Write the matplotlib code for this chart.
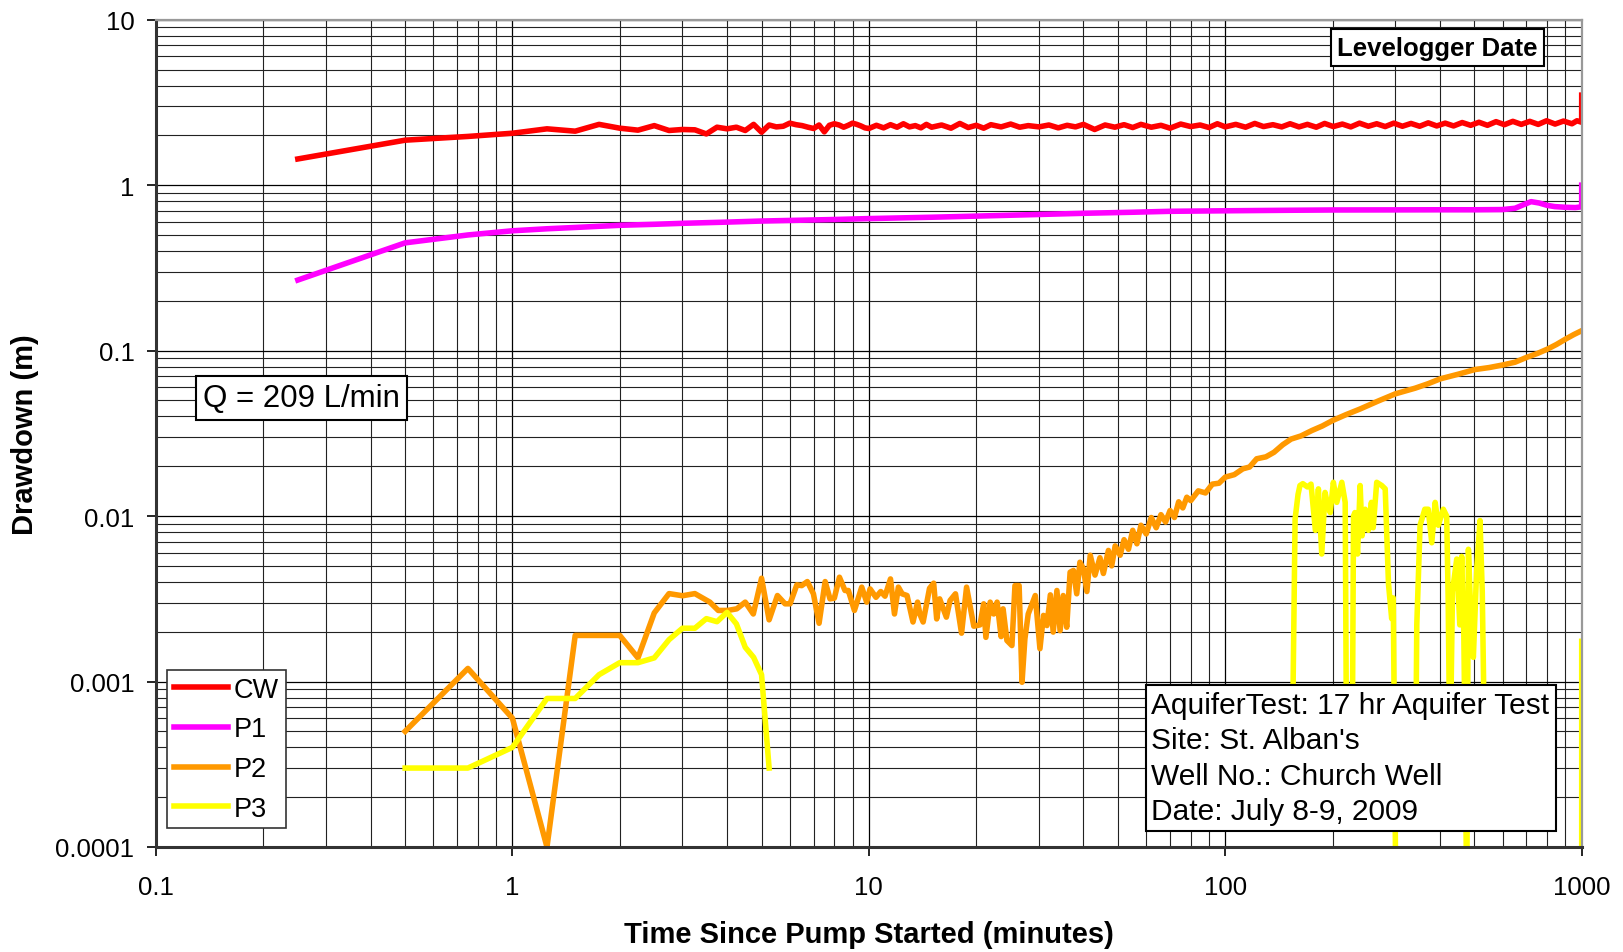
import numpy as np
import matplotlib
matplotlib.use("Agg")
import matplotlib.pyplot as plt
from matplotlib import ticker

plt.rcParams['font.family'] = ['Liberation Sans', 'DejaVu Sans']

# ---- data (time in minutes, drawdown in m) ----
cw_t = [0.25, 0.5, 0.75, 1.0, 1.25, 1.5, 1.75, 2.0, 2.25, 2.5, 2.75, 3.0, 3.25, 3.5, 3.75,
        4.0, 4.25, 4.5, 4.75, 5.0, 5.25, 5.5, 5.75, 6.0, 6.25, 6.5, 6.75, 7.0, 7.25, 7.5,
        7.75, 8.0, 8.25, 8.5, 8.75, 9.0, 9.25, 9.5, 9.75, 10.0,
        10.5, 11, 11.5, 12, 12.5, 13, 13.5, 14, 14.5, 15, 16, 17, 18, 19, 20, 21, 22, 23.5,
        25, 26.5, 28, 30, 32, 34, 36, 38, 40, 43, 46, 49, 52, 55, 58, 62, 66, 70, 75, 80,
        85, 90, 95, 100, 107, 114, 121, 128, 136, 144, 152, 161, 170, 180, 190, 201, 213,
        225, 238, 252, 266, 281, 297, 314, 332, 351, 371, 392, 414, 437, 462, 488, 515,
        544, 575, 607, 641, 677, 715, 755, 797, 842, 889, 939, 970, 999.75, 1000]
cw_v = [1.44, 1.87, 1.97, 2.06, 2.19, 2.12, 2.33, 2.21, 2.15, 2.29, 2.14, 2.17, 2.16, 2.04, 2.24,
        2.19, 2.24, 2.14, 2.33, 2.09, 2.31, 2.25, 2.27, 2.37, 2.32, 2.29, 2.24, 2.2, 2.31, 2.1,
        2.3, 2.35, 2.31, 2.24, 2.3, 2.37, 2.33, 2.28, 2.22, 2.2,
        2.3, 2.22, 2.32, 2.24, 2.35, 2.25, 2.29, 2.22, 2.33, 2.24, 2.31, 2.21, 2.36, 2.23,
        2.3, 2.21, 2.32, 2.25, 2.34, 2.24, 2.29, 2.25, 2.31, 2.22, 2.3, 2.25, 2.33, 2.17,
        2.31, 2.24, 2.32, 2.23, 2.33, 2.24, 2.3, 2.21, 2.34, 2.26, 2.31, 2.23, 2.35, 2.25,
        2.33, 2.24, 2.36, 2.26, 2.32, 2.25, 2.35, 2.25, 2.33, 2.24, 2.36, 2.26, 2.34, 2.25,
        2.37, 2.27, 2.35, 2.26, 2.37, 2.27, 2.36, 2.27, 2.38, 2.28, 2.37, 2.28, 2.39, 2.3,
        2.4, 2.3, 2.42, 2.32, 2.43, 2.33, 2.43, 2.33, 2.45, 2.34, 2.44, 2.35, 2.45, 2.4, 3.5]

p1_t = [0.25, 0.5, 0.75, 1.0, 1.25, 1.5, 2.0, 2.5, 3.0, 4.0, 5.0, 6, 8, 10, 15, 20, 30, 40,
        55, 70, 100, 150, 200, 300, 400, 500, 600, 650, 690, 721, 760, 800, 840, 900, 960,
        999.75, 1000]
p1_v = [0.267, 0.448, 0.5, 0.53, 0.545, 0.555, 0.572, 0.58, 0.588, 0.598, 0.607, 0.612, 0.62,
        0.628, 0.64, 0.65, 0.665, 0.676, 0.686, 0.695, 0.7, 0.705, 0.708, 0.709, 0.71, 0.71,
        0.712, 0.725, 0.765, 0.795, 0.78, 0.755, 0.742, 0.735, 0.732, 0.74, 1.0]

p2_t = [0.5, 0.75, 1.0, 1.25, 1.5, 1.75, 2.0, 2.25, 2.5, 2.75, 3.0, 3.25, 3.58, 3.78, 4.02,
        4.26, 4.5, 4.74, 5.0, 5.25, 5.54, 5.82, 6.01, 6.28, 6.48, 6.72, 6.99, 7.25, 7.54,
        7.78, 8.0, 8.27, 8.57, 8.76, 9.11, 9.55, 9.86, 10.08, 10.47, 10.8, 11.1, 11.5, 11.8,
        12.1, 12.4, 12.8, 13.3, 13.7, 13.9, 14.2, 14.8, 15.2, 15.5, 15.8, 16.5, 16.9, 17.5,
        18.2, 18.8, 19.7, 20.5, 21, 21.3, 21.9, 22.4, 22.9, 23.5, 23.8, 24.4, 25.2, 25.7,
        26.4, 26.9, 27.4, 28.0, 29.3, 30.2, 30.9, 31.6, 32.3, 32.9, 33.7, 34.4, 35.1, 35.9,
        36.7, 37.5, 38.3, 39.1, 40.0, 40.9, 41.8, 43.1, 44.5, 45.5, 47.0, 48, 49.1, 50.7,
        52, 53.5, 55, 56.5, 58, 60, 62, 64, 66, 68, 70, 72, 74, 76, 78, 80, 84, 88, 92, 96,
        100, 106, 112, 117, 122.5, 130, 137, 145, 153, 163, 175, 187, 200, 218, 239, 268,
        300, 341, 370, 401, 450, 501, 550, 602, 650, 702, 750, 803, 850, 903, 950, 1000]
p2_v = [0.0005, 0.0012, 0.0006, 0.0001, 0.0019, 0.0019, 0.0019, 0.00139, 0.0026, 0.0034,
        0.0033, 0.0034, 0.00302, 0.00269, 0.00269, 0.00275, 0.00302, 0.00256, 0.00421,
        0.00236, 0.00331, 0.00295, 0.00295, 0.00384, 0.0038, 0.00402, 0.00339, 0.00225,
        0.00402, 0.00316, 0.00319, 0.00427, 0.00355, 0.00355, 0.00269, 0.00372, 0.00302,
        0.00363, 0.00323, 0.0035, 0.00328, 0.00417, 0.00256, 0.00372, 0.00339, 0.00331,
        0.00229, 0.00302, 0.00256, 0.00229, 0.00366, 0.00393, 0.00239, 0.00316, 0.00245,
        0.00309, 0.00339, 0.00196, 0.00372, 0.00216, 0.0022, 0.00295, 0.00185, 0.00302,
        0.00256, 0.00302, 0.00187, 0.00275, 0.00177, 0.00165, 0.0038, 0.0038, 0.00099,
        0.00181, 0.00256, 0.00331, 0.00158, 0.00251, 0.00218, 0.00334, 0.00199, 0.00355,
        0.00203, 0.00331, 0.00213, 0.00458, 0.00469, 0.00339, 0.00526, 0.0048, 0.0035,
        0.0058, 0.0044, 0.0056, 0.0045, 0.0062, 0.005, 0.0066, 0.0058, 0.0072, 0.0063,
        0.0082, 0.0068, 0.0088, 0.0078, 0.0098, 0.0085, 0.0102, 0.0092, 0.0108, 0.0098,
        0.0122, 0.0112, 0.013, 0.0124, 0.0142, 0.0138, 0.0156, 0.0158, 0.0172, 0.0178,
        0.0193, 0.0198, 0.0222, 0.0228, 0.0243, 0.027, 0.0292, 0.0305, 0.0329, 0.035,
        0.0378, 0.041, 0.0444, 0.0495, 0.0548, 0.0593, 0.063, 0.0675, 0.072, 0.0768, 0.079,
        0.082, 0.0851, 0.0912, 0.096, 0.1023, 0.109, 0.1177, 0.125, 0.132]

# nan marks breaks where the logger gave no usable reading
p3_t = [0.5, 0.75, 1.0, 1.25, 1.5, 1.75, 2.0, 2.25, 2.5, 2.75, 3.0, 3.25, 3.5, 3.75, 4.0,
        4.25, 4.5, 4.75, 5.0, 5.25, 6.0,
        154, 157, 160, 162, 165, 170, 174, 179, 182.5, 186.5, 190.5, 194, 197, 201, 205.5,
        212.3, 217, 219, 227, 229, 231, 235, 239, 242, 247, 252, 257, 260, 266, 274.8, 281,
        287, 293, 296, 301, 330,
        342, 344.6, 352, 363, 371, 379.6, 388, 396, 409, 418, 422, 427, 434, 446, 455,
        460.6, 467, 476, 481, 488, 496.6, 507.5, 518.5, 526, 535, 600,
        1000, 1000]
p3_v = [0.0003, 0.0003, 0.0004, 0.00079, 0.00079, 0.0011, 0.0013, 0.0013, 0.00139, 0.00179,
        0.0021, 0.0021, 0.0024, 0.0023, 0.00262, 0.00223, 0.00161, 0.0014, 0.0011, 0.0003,
        np.nan,
        0.0003, 0.0096, 0.0135, 0.0153, 0.0157, 0.015, 0.0156, 0.0082, 0.0146, 0.0059,
        0.0139, 0.0115, 0.0105, 0.016, 0.0121, 0.016, 0.0121, 0.0003, 0.0003, 0.01, 0.0105,
        0.0059, 0.0153, 0.0076, 0.011, 0.0082, 0.0121, 0.0085, 0.016, 0.0153, 0.0146,
        0.0039, 0.0024, 0.0032, 0.00005, np.nan,
        0.0003, 0.0022, 0.0088, 0.011, 0.011, 0.0069, 0.0121, 0.0088, 0.011, 0.01, 0.0032,
        0.0003, 0.0035, 0.0055, 0.0022, 0.0057, 0.0019, 0.00005, 0.0063, 0.0027, 0.0014,
        0.0048, 0.0094, 0.0035, 0.0003, np.nan,
        0.00175, 0.00002]

x_ticks = [0.1, 1, 10, 100, 1000]
x_labels = ['0.1', '1', '10', '100', '1000']
y_ticks = [0.0001, 0.001, 0.01, 0.1, 1, 10]
y_labels = ['0.0001', '0.001', '0.01', '0.1', '1', '10']

W, H = 1624, 953
fig = plt.figure(figsize=(W / 100, H / 100), dpi=100)
ax = fig.add_axes([156 / W, 1 - 848 / H, (1581.7 - 156) / W, (848 - 20.7) / H])

lw = 4.0
ax.plot(cw_t, cw_v, color='#FF0000', lw=lw, label='CW', solid_joinstyle='round')
ax.plot(p1_t, p1_v, color='#FF00FF', lw=lw, label='P1', solid_joinstyle='round')
ax.plot(p2_t, p2_v, color='#FF9900', lw=lw, label='P2', solid_joinstyle='round')
ax.plot(p3_t, p3_v, color='#FFFF00', lw=lw, label='P3', solid_joinstyle='round')

ax.set_xscale('log')
ax.set_yscale('log')
ax.set_xlim(0.1, 1000)
ax.set_ylim(0.0001, 10)

ax.xaxis.set_major_locator(ticker.FixedLocator(x_ticks))
ax.xaxis.set_major_formatter(ticker.FixedFormatter(x_labels))
ax.yaxis.set_major_locator(ticker.FixedLocator(y_ticks))
ax.yaxis.set_major_formatter(ticker.FixedFormatter(y_labels))
for a in (ax.xaxis, ax.yaxis):
    a.set_minor_locator(ticker.LogLocator(base=10, subs=np.arange(2, 10), numticks=100))
    a.set_minor_formatter(ticker.NullFormatter())

ax.grid(which='major', color='black', lw=0.9)
ax.grid(which='minor', color='#222222', lw=0.8)
ax.set_axisbelow(True)

ax.tick_params(which='major', direction='out', length=6.5, width=1.2, labelsize=18.5, color='black')
ax.tick_params(axis='x', which='major', pad=14)
ax.tick_params(axis='y', which='major', pad=9)
ax.tick_params(which='minor', length=0)

for s in ('left', 'bottom'):
    ax.spines[s].set_color('#333333')
    ax.spines[s].set_linewidth(2.2)
for s in ('top', 'right'):
    ax.spines[s].set_color('#999999')
    ax.spines[s].set_linewidth(1.6)

ax.set_xlabel('Time Since Pump Started (minutes)', fontsize=21, fontweight='bold')
ax.set_ylabel('Drawdown (m)', fontsize=21, fontweight='bold')
ax.xaxis.set_label_coords(0.5, (848 - 935) / 827.3)
ax.xaxis.label.set_va('center')
ax.yaxis.set_label_coords((25 - 156) / 1425.7, 0.5)
ax.yaxis.label.set_va('center')

leg = ax.legend(loc='lower left', bbox_to_anchor=((167.3 - 156) / 1425.7, (848 - 829.3) / 827.3),
                borderaxespad=0, fontsize=19.5, handlelength=2.0, handletextpad=0.2,
                borderpad=0.25, labelspacing=0.5, fancybox=False, framealpha=1,
                edgecolor='#333333')
leg.get_frame().set_linewidth(1.2)

box = dict(boxstyle='square,pad=0.22', fc='white', ec='black', lw=1.5)
fig.text(203 / W, 1 - 399 / H, 'Q = 209 L/min', fontsize=22.5, ha='left', va='center', bbox=box)
fig.text(1151.5 / W, 1 - 692 / H,
         "AquiferTest: 17 hr Aquifer Test\nSite: St. Alban's\nWell No.: Church Well\nDate: July 8-9, 2009",
         fontsize=21.5, ha='left', va='top', linespacing=1.34,
         bbox=dict(boxstyle='square,pad=0.2', fc='white', ec='black', lw=1.5))
fig.text(1437.5 / W, 1 - 48.8 / H, 'Levelogger Date', fontsize=18.5, fontweight='bold',
         ha='center', va='center', bbox=dict(boxstyle='square,pad=0.25', fc='white', ec='black', lw=1.5))

fig.savefig('out.png', dpi=100, facecolor='white')
